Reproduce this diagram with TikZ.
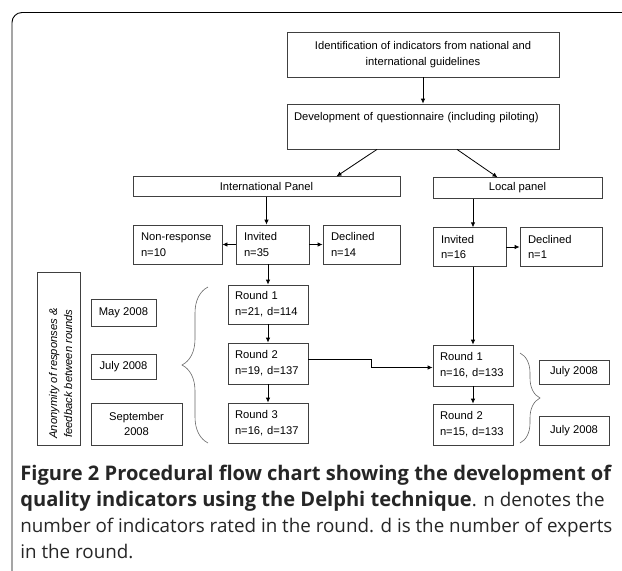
\documentclass[tikz,border=0pt]{standalone}
\usepackage{fontspec}
\setmainfont{Liberation Sans}
\newfontfamily\capfont{Open Sans}
\usetikzlibrary{arrows.meta,decorations.pathreplacing}

\begin{document}
\begin{tikzpicture}[x=1pt, y=-1pt, line width=0.8pt, >={Latex[length=5pt,width=4.5pt]},
  every node/.style={font=\fontsize{11.2}{15.7}\selectfont},
  box/.style={draw=black!75, align=center, inner sep=0pt},
  cell/.style={draw=black!75, align=left, inner xsep=8pt, inner ysep=0pt},
  brace/.style={draw=black!60, line width=0.6pt, decorate, decoration={brace, amplitude=#1}},
  caption/.style={anchor=base west, inner sep=0pt, text=black!85, font=\capfont\fontsize{18.8}{24}\selectfont}]
  \useasboundingbox (0,0) rectangle (622,571);
  \draw[line width=0.9pt, rounded corners=10pt] (12,571) -- (12,12.5) -- (622,12.5);

  \node[box, minimum width=272pt, minimum height=45pt] (1) at (423,54.5) {Identification of indicators from national and\\international guidelines};
  \node[cell, text width=258pt, inner xsep=7pt, minimum height=45pt] (2) at (423,126.5) {Development of questionnaire (including piloting)\\ \strut};
  \node[box, minimum width=267pt, minimum height=19.5pt] (3) at (266.5,186.5) {International Panel};
  \node[box, minimum width=169pt, minimum height=20.5pt] (4) at (517.5,188) {Local panel};

  \node[cell, text width=73pt, minimum height=39pt] (5) at (177.5,244.5) {Non-response\\n=10};
  \node[cell, text width=57pt, minimum height=39pt] (6) at (272.5,244.5) {Invited\\n=35};
  \node[cell, text width=61pt, minimum height=39pt] (7) at (361.5,244.5) {Declined\\n=14};
  \node[cell, text width=57pt, minimum height=38.5pt] (8) at (469.5,247) {Invited\\n=16};
  \node[cell, text width=66pt, minimum height=38.5pt] (9) at (561,247) {Declined\\n=1};

  \node[box, minimum width=43.5pt, minimum height=173pt] (10) at (58.75,358.5) {};
  \node[rotate=90, align=center, font=\itshape\fontsize{11.2}{15}\selectfont] (11) at (60.5,373.5) {Anonymity of responses \&\\feedback between rounds};
  \node[box, minimum width=65pt, minimum height=27.5pt] (12) at (123.5,312.75) {May 2008};
  \node[box, minimum width=65pt, minimum height=25pt] (13) at (123.5,366.5) {July 2008};
  \node[box, minimum width=91pt, minimum height=42pt] (14) at (136.5,424) {September\\2008};

  \node[cell, text width=66pt, inner xsep=7pt, minimum height=39pt] (15) at (268,304.5) {Round 1\\n=21, d=114};
  \node[cell, text width=66pt, inner xsep=7pt, minimum height=41pt] (16) at (268,363.5) {Round 2\\n=19, d=137};
  \node[cell, text width=66pt, inner xsep=7pt, minimum height=40pt] (17) at (268,423) {Round 3\\n=16, d=137};
  \node[cell, text width=66pt, inner xsep=7pt, minimum height=41pt] (18) at (473,365.5) {Round 1\\n=16, d=133};
  \node[cell, text width=66pt, inner xsep=7pt, minimum height=41pt] (19) at (473,424.5) {Round 2\\n=15, d=133};
  \node[box, minimum width=70pt, minimum height=24pt] (20) at (574,372) {July 2008};
  \node[box, minimum width=70pt, minimum height=29pt] (21) at (574,430.5) {July 2008};

  \draw[brace=26pt] (208,443) -- (208,287);
  \draw[brace=20pt] (520,353) -- (520,443);

  \draw[->] (1) -- (2);
  \draw[->] ([xshift=-46pt]2.south) -- ([xshift=70pt]3.north);
  \draw[->] ([xshift=34pt]2.south) -- ([xshift=-20pt]4.north);
  \draw[->] (3) -- (6.north -| 3);
  \draw[->] (6) -- (5);
  \draw[->] (6) -- (7);
  \draw[->] (6.south -| 15) -- (15);
  \draw[->] (15) -- (16);
  \draw[->] (16) -- (17);
  \draw[->] (4.south -| 18) -- (8.north -| 18);
  \draw[->] (8) -- (9);
  \draw[->] (8.south -| 18) -- (18);
  \draw[->] (18) -- (19);
  \draw[->] ([yshift=4pt]16.east) -- ++(63,0) |- ([yshift=-2pt]18.west);

  \node[caption] (22) at (20,480.7) {\fontsize{20.1}{24}\selectfont\bfseries Figure 2 Procedural flow chart showing the development of};
  \node[caption] (23) at (20,506.5) {{\fontsize{20.1}{24}\selectfont\bfseries quality indicators using the Delphi technique}. n denotes the};
  \node[caption] (24) at (20,532.3) {number of indicators rated in the round. d is the number of experts};
  \node[caption] (25) at (20,558) {in the round.};
\end{tikzpicture}
\end{document}
